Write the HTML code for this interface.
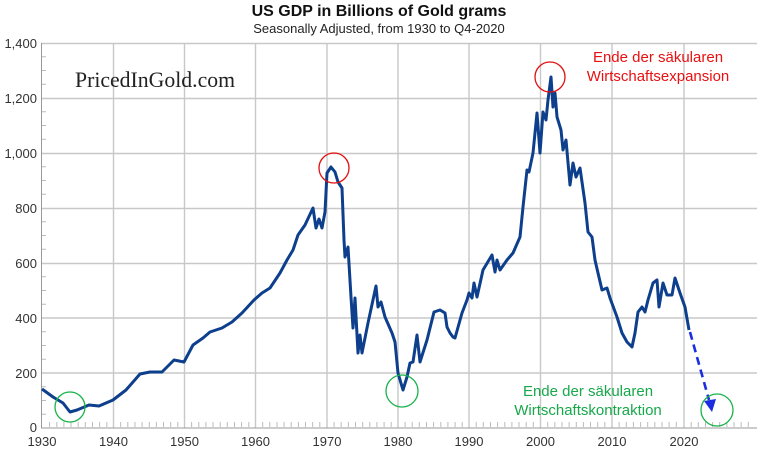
<!DOCTYPE html>
<html><head><meta charset="utf-8"><style>
html,body{margin:0;padding:0;background:#fff;}
svg{display:block;font-family:"Liberation Sans",sans-serif;}
</style></head><body>
<svg width="757" height="450" viewBox="0 0 757 450" xmlns="http://www.w3.org/2000/svg">
<rect width="757" height="450" fill="#fff"/>
<g stroke="#c8c8c8" stroke-width="1.4">
<line x1="41" y1="43.5" x2="757" y2="43.5"/>
<line x1="41" y1="98.5" x2="757" y2="98.5"/>
<line x1="41" y1="153.5" x2="757" y2="153.5"/>
<line x1="41" y1="208.5" x2="757" y2="208.5"/>
<line x1="41" y1="263.5" x2="757" y2="263.5"/>
<line x1="41" y1="318" x2="757" y2="318"/>
<line x1="41" y1="373" x2="757" y2="373"/>
<line x1="113.5" y1="43" x2="113.5" y2="428"/>
<line x1="184.5" y1="43" x2="184.5" y2="428"/>
<line x1="255.5" y1="43" x2="255.5" y2="428"/>
<line x1="327" y1="43" x2="327" y2="428"/>
<line x1="398" y1="43" x2="398" y2="428"/>
<line x1="469" y1="43" x2="469" y2="428"/>
<line x1="540.5" y1="43" x2="540.5" y2="428"/>
<line x1="612" y1="43" x2="612" y2="428"/>
<line x1="684" y1="43" x2="684" y2="428"/>
</g>
<g stroke="#999" stroke-width="1">
<line x1="41.5" y1="43" x2="41.5" y2="428"/>
<line x1="41" y1="428" x2="757" y2="428"/>
</g>
<path stroke="#bbb" stroke-width="1" d="M42 414.25h4M42 400.5h4M42 386.75h4M42 359.25h4M42 345.5h4M42 331.75h4M42 304.25h4M42 290.5h4M42 276.75h4M42 249.25h4M42 235.5h4M42 221.75h4M42 194.25h4M42 180.5h4M42 166.75h4M42 139.25h4M42 125.5h4M42 111.75h4M42 84.25h4M42 70.5h4M42 56.75h4"/>
<path stroke="#bbb" stroke-width="1" d="M49.6 422v5M56.8 422v5M63.9 422v5M71 422v5M78.2 422v5M85.3 422v5M92.5 422v5M99.6 422v5M106.8 422v5M120.7 422v5M127.8 422v5M135 422v5M142.1 422v5M149.3 422v5M156.4 422v5M163.5 422v5M170.7 422v5M177.8 422v5M191.6 422v5M198.8 422v5M205.9 422v5M213 422v5M220.2 422v5M227.3 422v5M234.5 422v5M241.6 422v5M248.8 422v5M262.7 422v5M269.8 422v5M277 422v5M284.1 422v5M291.2 422v5M298.4 422v5M305.5 422v5M312.7 422v5M319.8 422v5M334.1 422v5M341.2 422v5M348.4 422v5M355.5 422v5M362.7 422v5M369.8 422v5M376.9 422v5M384.1 422v5M391.2 422v5M405.1 422v5M412.2 422v5M419.3 422v5M426.5 422v5M433.6 422v5M440.8 422v5M447.9 422v5M455.1 422v5M462.2 422v5M476.2 422v5M483.3 422v5M490.5 422v5M497.6 422v5M504.8 422v5M511.9 422v5M519 422v5M526.2 422v5M533.3 422v5M547.7 422v5M554.8 422v5M562 422v5M569.1 422v5M576.3 422v5M583.4 422v5M590.5 422v5M597.7 422v5M604.8 422v5M619.1 422v5M626.3 422v5M633.4 422v5M640.6 422v5M647.7 422v5M654.8 422v5M662 422v5M669.1 422v5M676.3 422v5M691.2 422v5M698.3 422v5M705.5 422v5M712.6 422v5M719.7 422v5M726.9 422v5M734 422v5M741.2 422v5M748.3 422v5"/>
<g font-size="13" fill="#333" text-anchor="end">
<text x="37" y="48">1,400</text><text x="37" y="103">1,200</text><text x="37" y="158">1,000</text>
<text x="37" y="213">800</text><text x="37" y="268">600</text><text x="37" y="323">400</text>
<text x="37" y="378">200</text><text x="37" y="432">0</text>
</g>
<g font-size="13" fill="#333" text-anchor="middle">
<text x="42" y="446">1930</text><text x="113.5" y="446">1940</text><text x="184.5" y="446">1950</text>
<text x="255.5" y="446">1960</text><text x="327" y="446">1970</text><text x="398" y="446">1980</text>
<text x="469" y="446">1990</text><text x="540.5" y="446">2000</text><text x="612" y="446">2010</text><text x="684" y="446">2020</text>
</g>
<text x="379" y="16" font-size="16" font-weight="bold" text-anchor="middle" fill="#111">US GDP in Billions of Gold grams</text>
<text x="379" y="33" font-size="13" text-anchor="middle" fill="#222">Seasonally Adjusted, from 1930 to Q4-2020</text>
<text x="75" y="87" font-size="22" fill="#222" textLength="160" lengthAdjust="spacingAndGlyphs" style="font-family:'Liberation Serif',serif">PricedInGold.com</text>
<polyline fill="none" stroke="#0d3f8c" stroke-width="3" stroke-linejoin="round" points="42,389 53,397 63,403 70,412 77,410 89,405 99,406 113,400 126,390 140,374 150,372 162,372 174,360 184,362 193,345 203,338 210,332 222,328 232,322 242,313 254,300 262,293 270,288 280,273 287,260 293,250 298,235 305,225 313,208 316,228 319,219 322,228 325,212 327,173 331,167 335,172 338,182 342,188 344,240 345,257 348,247 351,297 353,328 355,298 358,353 360,335 362,353 368,323 376,286 378,307 381,302 385,317 392,333 395,342 398,373 403,390 407,377 410,363 413,362 417,335 420,362 427,340 434,312 440,310 445,313 447,327 450,333 453,337 455,338 462,313 467,300 469,293 472,298 474,283 477,297 483,270 492,255 495,272 497,260 500,270 507,260 513,253 520,237 523,207 527,170 529,172 533,153 537,113 540,153 543,112 546,120 548,100 551,77 553,107 555,93 557,117 561,130 563,150 566,140 570,185 573,163 576,177 580,168 585,203 588,232 592,237 595,260 598,273 602,290 607,288 610,298 617,317 622,333 627,342 632,347 635,333 638,312 642,307 645,312 648,300 653,283 657,280 659,307 663,283 667,295 672,295 675,278 680,293 685,307 689,330"/>
<line x1="690" y1="332" x2="709" y2="400" stroke="#1a2ee0" stroke-width="2.6" stroke-dasharray="8,5"/>
<polygon points="704,401 716,399 712,412" fill="#1a2ee0"/>
<g fill="none" stroke-width="1.3">
<circle cx="70" cy="407" r="15" stroke="#17b34a"/>
<circle cx="334" cy="168" r="15" stroke="#e01010"/>
<circle cx="402" cy="391" r="16" stroke="#17b34a"/>
<circle cx="550" cy="77" r="15" stroke="#e01010"/>
<circle cx="717" cy="410" r="16" stroke="#17b34a"/>
</g>
<g font-size="15" fill="#e81010" text-anchor="middle">
<text x="658" y="62">Ende der säkularen</text><text x="658" y="81">Wirtschaftsexpansion</text>
</g>
<g font-size="15" fill="#17a84a" text-anchor="middle">
<text x="588" y="396">Ende der säkularen</text><text x="588" y="415">Wirtschaftskontraktion</text>
</g>
</svg>
</body></html>
